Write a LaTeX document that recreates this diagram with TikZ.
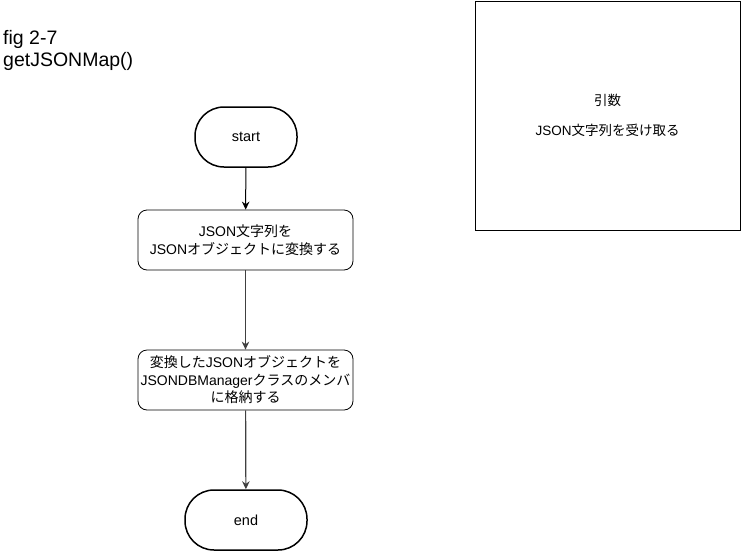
\documentclass[tikz,border=0pt]{standalone}
\usepackage{fontspec}
\setmainfont{Liberation Sans}
\newfontfamily\jpfont{Noto Sans CJK JP}
\newcommand{\ja}[1]{{\jpfont #1}}
\usetikzlibrary{arrows.meta}

\tikzset{
	terminal/.style={draw, line width=1.5pt, rounded corners=29pt, minimum height=60pt, inner sep=0pt,
		font=\fontsize{14.5}{17.5}\selectfont},
	process/.style={draw, line width=0.8pt, rounded corners=9pt, minimum width=215pt, minimum height=60pt,
		inner sep=0pt, align=center, font=\fontsize{14}{17.5}\selectfont},
	note/.style={draw, line width=0.8pt, minimum width=265pt, minimum height=229pt, inner sep=0pt,
		align=center, font=\fontsize{13.5}{15}\selectfont},
	flow/.style={-{Stealth[length=8pt, width=7.5pt]}, line width=1pt}
}

\begin{document}
\begin{tikzpicture}[x=1pt, y=-1pt]
\useasboundingbox (0, 0) rectangle (741, 552);

% TITLE
\node(title) at(3, 30) [anchor=north west, inner sep=0pt, align=left,
	font=\fontsize{19.5}{22}\selectfont] {fig 2-7\\getJSONMap()};

% NODES
\node(start) at(246, 137) [terminal, minimum width=102pt] {start};
\node(convert) at(245.5, 240) [process]
	{JSON\ja{文字列を}\\JSON\ja{オブジェクトに変換する}};
\node(store) at(245.5, 380) [process]
	{\ja{変換した}JSON\ja{オブジェクトを}\\JSONDBManager\ja{クラスのメンバ}\\\ja{に格納する}};
\node(end) at(246, 520) [terminal, minimum width=122pt] {end};

\node(args) at(607.5, 115.5) [note] {\ja{引数}\\[15pt]JSON\ja{文字列を受け取る}};

% ARCS
\draw[flow] (start) -- (convert);
\foreach \u \v in{
	convert/store, store/end%
}{
	\draw[flow, black!75, line width=1.2pt] (\u) -- (\v);
}

\end{tikzpicture}
\end{document}
